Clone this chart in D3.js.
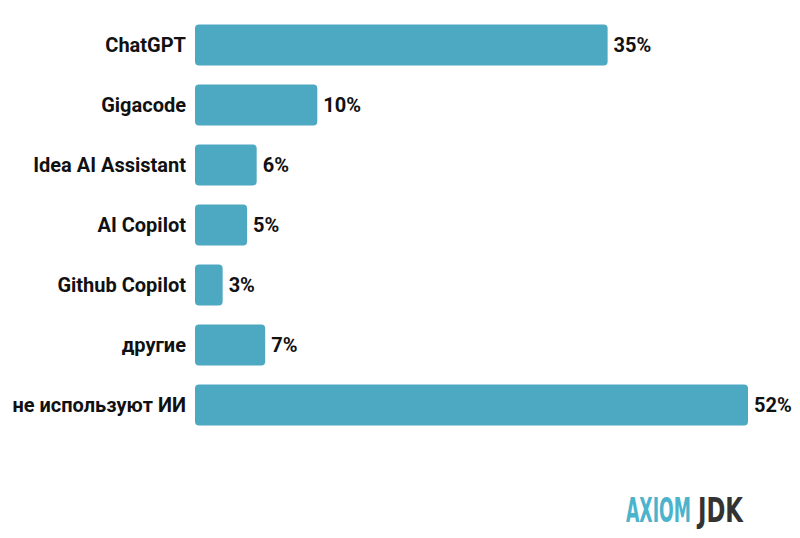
<!DOCTYPE html>
<html>
<head>
<meta charset="utf-8">
<script src="https://cdn.jsdelivr.net/npm/d3@7"></script>
<style>
  body { margin: 0; background: #fff; }
  .cat { font-family: Roboto, "Noto Sans", sans-serif; font-weight: 700; font-size: 20px; fill: #111; }
  .val { font-family: Roboto, "Noto Sans", sans-serif; font-weight: 700; font-size: 20px; fill: #111; }
</style>
</head>
<body>
<div id="chart"></div>
<script>
// categories, shown shares, and bar lengths (in %)
var categories = ["ChatGPT", "Gigacode", "Idea AI Assistant", "AI Copilot", "Github Copilot", "другие", "не используют ИИ"];
var shares = [35, 10, 6, 5, 3, 7, 52];
var barLengths = [38.8, 11.5, 5.8, 4.9, 2.6, 6.6, 52];

var w = 800, h = 538,
    m = {t:15, r:0, b:0, l:195},
    barColor = "#4da8c1";

var data = categories.map(function(c, i){ return {name:c, share:shares[i], len:barLengths[i]}; });

var svg = d3.select("#chart").append("svg")
    .attr("width", w)
    .attr("height", h);

var x = d3.scaleLinear().domain([0, 52]).range([0, 553]);
var y = d3.scaleBand().domain(categories).range([0, 420]).paddingInner(0.317).paddingOuter(0.158);

var g = svg.append("g").attr("transform", "translate(" + m.l + "," + m.t + ")");

g.selectAll(".bar")
    .data(data)
    .enter()
    .append("rect")
    .attr("class", "bar")
    .attr("x", 0)
    .attr("y", function(d){ return y(d.name); })
    .attr("width", function(d){ return x(d.len); })
    .attr("height", y.bandwidth())
    .attr("rx", 4)
    .style("fill", barColor);

g.selectAll(".cat")
    .data(data)
    .enter()
    .append("text")
    .attr("class", "cat")
    .attr("x", -9)
    .attr("y", function(d){ return y(d.name) + y.bandwidth()/2; })
    .attr("dy", "0.35em")
    .style("text-anchor", "end")
    .text(function(d){ return d.name; });

g.selectAll(".val")
    .data(data)
    .enter()
    .append("text")
    .attr("class", "val")
    .attr("x", function(d){ return x(d.len) + 6; })
    .attr("y", function(d){ return y(d.name) + y.bandwidth()/2; })
    .attr("dy", "0.35em")
    .text(function(d){ return d.share + "%"; });

// logo (stretched vertically to look condensed)
var logo = svg.append("g").attr("transform", "translate(626,522) scale(1,1.55)");
logo.append("text")
    .attr("x", 0)
    .attr("textLength", 65)
    .attr("lengthAdjust", "spacingAndGlyphs")
    .style("font-family", "'DejaVu Sans Condensed', 'Liberation Sans Narrow', sans-serif")
    .style("font-weight", 700)
    .style("font-size", "22px")
    .style("fill", "#4bb3cb")
    .text("AXIOM");
logo.append("text")
    .attr("x", 72)
    .attr("textLength", 45)
    .attr("lengthAdjust", "spacingAndGlyphs")
    .style("font-family", "'DejaVu Sans Condensed', 'Liberation Sans Narrow', sans-serif")
    .style("font-weight", 700)
    .style("font-size", "22px")
    .style("fill", "#333")
    .text("JDK");
</script>
</body>
</html>
